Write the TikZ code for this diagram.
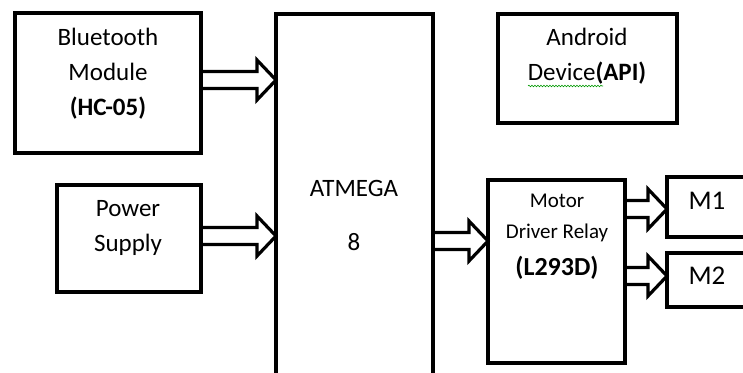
\documentclass[tikz,border=0pt]{standalone}
\usepackage{fontspec}
\setmainfont{Carlito}
\usetikzlibrary{calc,decorations.pathmorphing}
\tikzset{
  box/.style={draw, line width=3.2pt, inner sep=0pt, outer sep=0pt},
  barrow/.style={draw, line width=3.2pt, line join=miter},
  txt/.style={align=center, inner sep=0pt, font=\fontsize{25}{35}\selectfont},
  smalltxt/.style={align=center, inner sep=0pt, font=\fontsize{21}{31}\selectfont},
}
\newcommand\blockarr[3]{%
  \draw[barrow] let \p1=(#1.east), \p2=(#2.west), \p3=(0,#3) in
    (\x1,\y3+8.5pt) -- (\x2-19pt,\y3+8.5pt) -- (\x2-19pt,\y3+20pt) -- (\x2,\y3)
    -- (\x2-19pt,\y3-20pt) -- (\x2-19pt,\y3-8.5pt) -- (\x1,\y3-8.5pt);}
\begin{document}
\begin{tikzpicture}[x=1pt,y=-1pt]
\useasboundingbox (0,0) rectangle (743,372);
\clip (0,0) rectangle (743,372);
\fill[white] (0,0) rectangle (743,372);
% boxes
\node[box, minimum width=186pt, minimum height=140pt] (bt) at (108,83) {};
\node[box, minimum width=144pt, minimum height=107pt] (pw) at (129,238.5) {};
\node[box, minimum width=157pt, minimum height=406pt] (atm) at (354.5,217) {};
\node[box, minimum width=137pt, minimum height=183pt] (md) at (556.5,271.5) {};
\node[box, minimum width=179pt, minimum height=109pt] (and) at (587.5,68.5) {};
\node[box, minimum width=103pt, minimum height=60pt] (m1) at (718.5,207) {};
\node[box, minimum width=103pt, minimum height=54pt] (m2) at (718.5,280) {};
% texts
\node[txt] (btt) at (108,74) {Bluetooth\\Module\\\textbf{(HC-05)}};
\node[txt] (pwt) at (128,228) {Power\\Supply};
\node[txt] (atmt1) at (354,188) {ATMEGA};
\node[txt] (atmt2) at (354,242) {8};
\node[smalltxt] (mdt) at (557,218) {Motor\\Driver Relay};
\node[txt, font=\fontsize{26}{36}\selectfont\bfseries] (mdt2) at (557,268) {(L293D)};
\node[txt] (andt) at (587,56) {Android\\Device\textbf{(API)}};
\node[txt, font=\fontsize{27}{36}\selectfont] (m1t) at (707,201) {M1};
\node[txt, font=\fontsize{27}{36}\selectfont] (m2t) at (707,276) {M2};
% spell-check squiggle
\coordinate (sq1) at (528,86);
\coordinate (sq2) at (603,86);
\draw[green!60!black, line width=0.6pt, decorate, decoration={snake, segment length=3pt, amplitude=0.8pt}] (sq1) -- (sq2);
% block arrows
\blockarr{bt}{atm}{80}
\blockarr{pw}{atm}{236}
\blockarr{atm}{md}{241}
\blockarr{md}{m1}{209}
\blockarr{md}{m2}{276}
\end{tikzpicture}
\end{document}
